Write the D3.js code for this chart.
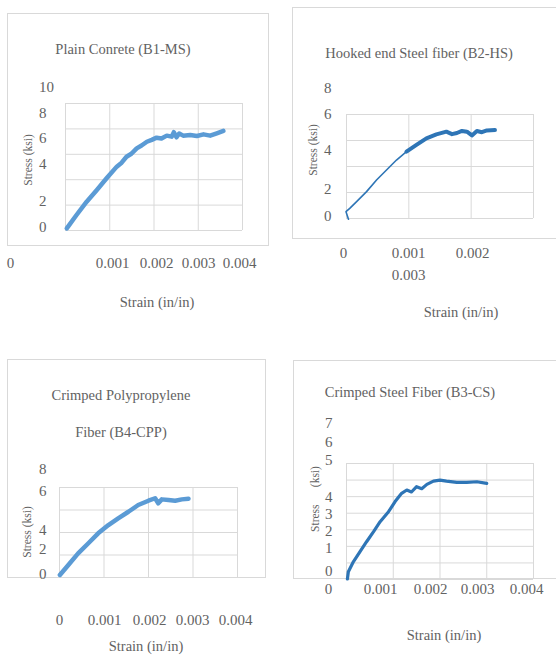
<!DOCTYPE html>
<html>
<head>
<meta charset="utf-8">
<script src="https://cdn.jsdelivr.net/npm/d3@7"></script>
<style>
  html, body { margin: 0; padding: 0; background: #ffffff; }
  svg { display: block; }
  text { font-family: 'Liberation Serif', 'DejaVu Serif', serif; fill: #626262; }
</style>
</head>
<body>
<svg id="chart" width="556" height="655"></svg>
<script>
// ---------------- DATA ----------------
// Panel titles
const titles = {
  B1: ["Plain Conrete (B1-MS)"],
  B2: ["Hooked end Steel fiber (B2-HS)"],
  B4: ["Crimped Polypropylene", "Fiber (B4-CPP)"],
  B3: ["Crimped Steel Fiber (B3-CS)"]
};
const xTitle = "Strain (in/in)";
const yTitle = "Stress (ksi)";

// B1-MS  Plain concrete
const b1Strain = [0.00004, 0.00026, 0.00049, 0.00072, 0.00094, 0.00117, 0.00128, 0.00139, 0.00150, 0.00162, 0.00173, 0.00185, 0.00196, 0.00207, 0.00218, 0.00230, 0.00241, 0.00246, 0.00252, 0.00258, 0.00267, 0.00283, 0.00298, 0.00313, 0.00328, 0.00343, 0.00358];
const b1Stress = [0.13, 1.18, 2.23, 3.15, 4.07, 4.99, 5.30, 5.77, 6.00, 6.43, 6.65, 6.95, 7.10, 7.27, 7.20, 7.43, 7.35, 7.70, 7.30, 7.60, 7.43, 7.48, 7.40, 7.53, 7.43, 7.61, 7.80];

// B2-HS  Hooked end steel fiber
const b2Strain = [0.00004, 0.00000, 0.00006, 0.00017, 0.00033, 0.00049, 0.00065, 0.00081, 0.00097, 0.00113, 0.00129, 0.00145, 0.00161, 0.00170, 0.00178, 0.00186, 0.00194, 0.00202, 0.00210, 0.00218, 0.00226, 0.00239];
const b2Stress = [-0.10, 0.49, 0.74, 1.26, 2.03, 2.92, 3.69, 4.46, 5.10, 5.62, 6.13, 6.43, 6.64, 6.45, 6.54, 6.70, 6.64, 6.35, 6.69, 6.60, 6.74, 6.77];

// B4-CPP  Crimped polypropylene fiber
const b4Strain = [0.00002, 0.00021, 0.00043, 0.00066, 0.00088, 0.00111, 0.00133, 0.00156, 0.00178, 0.00201, 0.00216, 0.00223, 0.00231, 0.00246, 0.00261, 0.00276, 0.00291];
const b4Stress = [0.18, 1.07, 2.10, 3.00, 3.88, 4.62, 5.22, 5.80, 6.40, 6.78, 7.00, 6.55, 6.90, 6.84, 6.78, 6.90, 6.96];

// B3-CS  Crimped steel fiber
const b3Strain = [0.00003, 0.00005, 0.00016, 0.00030, 0.00044, 0.00059, 0.00073, 0.00091, 0.00105, 0.00119, 0.00130, 0.00140, 0.00151, 0.00162, 0.00173, 0.00187, 0.00201, 0.00215, 0.00237, 0.00258, 0.00280, 0.00301];
const b3Stress = [0.00, 0.44, 1.05, 1.65, 2.25, 2.86, 3.46, 4.06, 4.67, 5.17, 5.37, 5.25, 5.57, 5.45, 5.71, 5.91, 5.97, 5.91, 5.83, 5.83, 5.87, 5.77];

// Tick labels
const b1XTicks = [0, 0.001, 0.002, 0.003, 0.004];
const b1YTicks = [0, 2, 4, 6, 8, 10];
const b2XTicks = [0, 0.001, 0.002];
const b2XTicksExtra = [0.003];
const b2YTicks = [0, 2, 4, 6, 8];
const b4XTicks = [0, 0.001, 0.002, 0.003, 0.004];
const b4YTicks = [0, 2, 4, 6, 8];
const b3XTicks = [0, 0.001, 0.002, 0.003, 0.004];
const b3YTicks = [0, 1, 2, 3, 4, 5, 6, 7];

// ---------------- LAYOUT ----------------
const panels = [
  { id: "B1", strain: b1Strain, stress: b1Stress, color: "#5b9bd5", width: 4.5,
    box: [7, 13, 268, 245],
    grid: { x0: 65, x1: 242, y0: 103, y1: 230, xMax: 0.004, xN: 4, yMax: 10, yN: 5 },
    titleX: 123, titleY: [49],
    yTicks: b1YTicks, yTickPos: [226, 200, 163, 137, 112, 86], yTickX: 39,
    xTicks: b1XTicks, xTickPos: [10, 112, 156, 198, 239], xTickY: 263,
    xTitlePos: [157, 302], yTitlePos: [28, 160] },
  { id: "B2", strain: b2Strain, stress: b2Stress, color: "#2e75b6", width: 1.6, thickFrom: 0.0009, thickWidth: 4,
    box: [292, 7, 560, 238],
    grid: { x0: 346, x1: 533, y0: 114, y1: 218, xMax: 0.003, xN: 3, yMax: 8, yN: 4 },
    titleX: 419, titleY: [53],
    yTicks: b2YTicks, yTickPos: [215, 188, 149, 113, 87], yTickX: 324,
    xTicks: b2XTicks, xTickPos: [343, 408, 472], xTickY: 253,
    xTicksExtra: b2XTicksExtra, xTickExtraPos: [408], xTickExtraY: 275,
    xTitlePos: [461, 312], yTitlePos: [313, 150] },
  { id: "B4", strain: b4Strain, stress: b4Stress, color: "#5b9bd5", width: 4.5,
    box: [7, 359, 265, 577],
    grid: { x0: 59, x1: 237, y0: 487, y1: 577, xMax: 0.004, xN: 4, yMax: 8, yN: 4 },
    titleX: 121, titleY: [395, 432],
    yTicks: b4YTicks, yTickPos: [573, 548, 529, 490, 468], yTickX: 39,
    xTicks: b4XTicks, xTickPos: [59, 104, 149, 192, 235], xTickY: 620,
    xTitlePos: [146, 646], yTitlePos: [27, 532] },
  { id: "B3", strain: b3Strain, stress: b3Stress, color: "#2e75b6", width: 3.2,
    box: [293, 360, 560, 578],
    grid: { x0: 346, x1: 533, y0: 463, y1: 579, xMax: 0.004, xN: 4, yMax: 7, yN: 7 },
    titleX: 410, titleY: [392],
    yTicks: b3YTicks, yTickPos: [570, 547, 530, 513, 496, 459, 441, 422], yTickX: 325,
    xTicks: b3XTicks, xTickPos: [328, 380, 430, 477, 526], xTickY: 589,
    xTitlePos: [444, 635], yTitlePos: [315, 499], yTitleText: "Stress      (ksi)" }
];

const svg = d3.select("#chart");
svg.append("rect").attr("x", 0).attr("y", 0).attr("width", 556).attr("height", 655).attr("fill", "#ffffff");

const fmt = d => d === 0 ? "0" : d3.format(".3f")(d);
const tickFont = 15;

panels.forEach(p => {
  const g = svg.append("g").attr("class", "panel-" + p.id);
  const [bx0, by0, bx1, by1] = p.box;
  g.append("rect")
    .attr("x", bx0 + 0.5).attr("y", by0 + 0.5)
    .attr("width", bx1 - bx0).attr("height", by1 - by0)
    .attr("fill", "none").attr("stroke", "#d9d9d9").attr("stroke-width", 1);

  const gr = p.grid;
  const x = d3.scaleLinear().domain([0, gr.xMax]).range([gr.x0, gr.x1]);
  const y = d3.scaleLinear().domain([0, gr.yMax]).range([gr.y1, gr.y0]);

  // gridlines
  const gx = g.append("g").attr("transform", `translate(0,${gr.y1})`)
    .call(d3.axisBottom(x).ticks(gr.xN).tickSize(-(gr.y1 - gr.y0)).tickFormat(""));
  const gy = g.append("g").attr("transform", `translate(${gr.x0},0)`)
    .call(d3.axisLeft(y).ticks(gr.yN).tickSize(-(gr.x1 - gr.x0)).tickFormat(""));
  [gx, gy].forEach(a => {
    a.select(".domain").remove();
    a.selectAll(".tick line").attr("stroke", "#d9d9d9").attr("stroke-width", 1);
  });

  // data line
  const pts = p.strain.map((s, i) => [s, p.stress[i]]);
  const line = d3.line().x(d => x(d[0])).y(d => y(d[1])).curve(d3.curveLinear);
  g.append("path").datum(pts)
    .attr("fill", "none").attr("stroke", p.color)
    .attr("stroke-width", p.width).attr("stroke-linejoin", "round").attr("stroke-linecap", "round")
    .attr("d", line);
  if (p.thickFrom !== undefined) {
    const thick = pts.filter(d => d[0] >= p.thickFrom);
    g.append("path").datum(thick)
      .attr("fill", "none").attr("stroke", p.color)
      .attr("stroke-width", p.thickWidth).attr("stroke-linejoin", "round").attr("stroke-linecap", "round")
      .attr("d", line);
  }

  // y tick labels
  const yl = d3.scaleLinear().domain(p.yTicks).range(p.yTickPos);
  const ya = g.append("g").attr("transform", `translate(${p.yTickX},0)`)
    .call(d3.axisLeft(yl).tickValues(p.yTicks).tickSize(0).tickPadding(0).tickFormat(d3.format("d")));
  ya.select(".domain").remove();
  ya.selectAll("text").attr("text-anchor", "start").attr("x", 0).attr("dy", "0.35em")
    .attr("font-size", tickFont).attr("fill", "#626262").attr("font-family", null);

  // x tick labels
  const xl = d3.scaleLinear().domain(p.xTicks).range(p.xTickPos);
  const xa = g.append("g").attr("transform", `translate(0,${p.xTickY})`)
    .call(d3.axisBottom(xl).tickValues(p.xTicks).tickSize(0).tickPadding(0).tickFormat(fmt));
  xa.select(".domain").remove();
  xa.selectAll("text").attr("y", 0).attr("dy", "0.35em")
    .attr("font-size", tickFont).attr("fill", "#626262").attr("font-family", null);

  if (p.xTicksExtra) {
    const xl2 = d3.scaleLinear().domain([p.xTicksExtra[0] - 1, p.xTicksExtra[0]]).range([p.xTickExtraPos[0] - 1, p.xTickExtraPos[0]]);
    const xa2 = g.append("g").attr("transform", `translate(0,${p.xTickExtraY})`)
      .call(d3.axisBottom(xl2).tickValues(p.xTicksExtra).tickSize(0).tickPadding(0).tickFormat(fmt));
    xa2.select(".domain").remove();
    xa2.selectAll("text").attr("y", 0).attr("dy", "0.35em")
      .attr("font-size", tickFont).attr("fill", "#626262").attr("font-family", null);
  }

  // title
  titles[p.id].forEach((t, i) => {
    g.append("text").attr("x", p.titleX).attr("y", p.titleY[i]).attr("dy", "0.35em")
      .attr("text-anchor", "middle").attr("font-size", 14.5).text(t);
  });

  // axis titles
  g.append("text").attr("x", p.xTitlePos[0]).attr("y", p.xTitlePos[1]).attr("dy", "0.35em")
    .attr("text-anchor", "middle").attr("font-size", 14.5).text(xTitle);
  g.append("text")
    .attr("transform", `translate(${p.yTitlePos[0]},${p.yTitlePos[1]}) rotate(-90)`)
    .attr("dy", "0.35em").attr("text-anchor", "middle").attr("font-size", 11.5)
    .style("white-space", "pre")
    .text(p.yTitleText || yTitle);
});
</script>
</body>
</html>
